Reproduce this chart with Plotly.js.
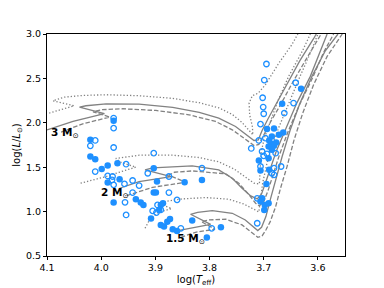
<!DOCTYPE html>
<html><head><meta charset="utf-8">
<script src="https://cdn.plot.ly/plotly-3.0.1.min.js"></script>
<style>html,body{margin:0;padding:0;background:#fff}#c{width:384px;height:288px}</style>
</head><body><div id="c"></div>
<script>
// Evolutionary tracks: log Teff and log L/Lsun
const m3solidT = [4.100,4.052,3.994,4.040,4.028,3.991,3.930,3.868,3.819,3.783,3.752,3.731,3.718,3.710,3.703,3.692,3.677,3.657,3.633,3.608,3.603];
const m3solidL = [1.921,2.015,2.102,2.177,2.192,2.214,2.210,2.173,2.117,2.053,1.959,1.865,1.801,1.808,1.914,2.045,2.214,2.440,2.703,2.947,3.000];
const m3dashT = [4.074,4.034,3.984,4.015,4.000,3.960,3.899,3.838,3.789,3.758,3.734,3.718,3.709,3.700,3.686,3.669,3.648,3.623,3.599,3.594];
const m3dashL = [1.895,1.989,2.064,2.124,2.147,2.158,2.139,2.090,2.015,1.921,1.816,1.744,1.756,1.865,2.026,2.203,2.440,2.703,2.947,3.000];
const m3dotT = [4.096,4.071,4.050,4.089,4.068,4.034,3.991,3.930,3.868,3.819,3.783,3.758,3.740,3.727,3.720,3.721,3.726,3.727,3.721,3.710,3.697,3.672,3.648,3.637];
const m3dotL = [2.109,2.154,2.192,2.248,2.289,2.308,2.316,2.305,2.275,2.226,2.169,2.094,2.004,1.914,1.865,1.959,2.090,2.222,2.305,2.335,2.428,2.673,2.880,3.000];

const m2solidT = [3.966,3.930,3.871,3.919,3.905,3.868,3.832,3.783,3.758,3.740,3.724,3.712,3.704,3.697,3.688,3.677,3.660,3.639,3.614,3.596,3.583];
const m2solidL = [1.263,1.338,1.395,1.470,1.492,1.507,1.515,1.470,1.376,1.263,1.177,1.143,1.199,1.320,1.470,1.677,1.921,2.222,2.523,2.804,3.000];
const m2dashT = [3.953,3.905,3.844,3.875,3.865,3.832,3.770,3.746,3.727,3.715,3.708,3.700,3.692,3.683,3.671,3.655,3.634,3.610,3.590,3.571];
const m2dashL = [1.180,1.274,1.331,1.410,1.443,1.458,1.425,1.320,1.188,1.094,1.064,1.113,1.237,1.413,1.639,1.902,2.203,2.504,2.786,3.000];
const m2dotT = [4.038,3.991,3.957,3.936,3.963,3.973,3.930,3.868,3.819,3.783,3.755,3.734,3.718,3.708,3.707,3.705,3.699,3.688,3.673,3.654,3.629,3.614];
const m2dotL = [1.320,1.395,1.462,1.500,1.553,1.598,1.635,1.635,1.609,1.560,1.481,1.387,1.320,1.312,1.470,1.658,1.827,2.015,2.259,2.523,2.804,3.000];

const m15solidT = [3.868,3.838,3.798,3.835,3.822,3.795,3.758,3.734,3.718,3.711,3.704,3.696,3.688,3.678,3.666,3.651,3.633,3.611,3.587,3.563];
const m15solidL = [0.775,0.812,0.857,0.970,0.992,1.011,0.981,0.906,0.823,0.786,0.823,0.944,1.132,1.357,1.620,1.921,2.222,2.523,2.804,3.000];
const m15dashT = [3.853,3.826,3.790,3.815,3.801,3.770,3.740,3.721,3.711,3.703,3.696,3.688,3.678,3.669,3.657,3.644,3.628,3.608,3.583,3.555];
const m15dashL = [0.711,0.767,0.801,0.887,0.906,0.914,0.850,0.756,0.711,0.726,0.793,0.887,1.056,1.263,1.507,1.808,2.109,2.429,2.748,3.000];
const m15dotT = [3.919,3.910,3.894,3.870,3.892,3.881,3.850,3.807,3.764,3.737,3.718,3.709,3.706,3.702,3.694,3.685,3.671,3.654,3.633,3.614,3.600];
const m15dotL = [0.812,0.917,0.993,1.034,1.086,1.116,1.143,1.158,1.139,1.086,1.026,0.996,1.132,1.320,1.545,1.741,1.966,2.222,2.523,2.786,3.000];

// Stars: open symbols
const openT = [3.977,3.977,3.977,4.011,4.020,4.011,3.988,3.979,3.980,3.977,3.957,3.954,3.942,3.930,3.914,3.903,3.942,3.956,3.954,3.860,3.875,3.875,3.814,3.896,3.905,3.898,3.890,3.853,3.796,
  3.695,3.699,3.702,3.701,3.700,3.706,3.709,3.723,3.703,3.700,3.706,3.641,3.645,3.662,3.668,3.681,3.712,3.681,3.694,3.678,3.697,3.712,3.685];
const openL = [2.053,1.940,1.722,1.801,1.741,1.451,1.402,1.395,1.357,1.301,1.312,1.534,1.350,1.293,1.432,1.658,1.214,1.105,0.962,1.132,1.214,1.395,1.489,1.075,1.008,0.989,1.019,0.812,0.812,
  2.662,2.481,2.282,2.177,2.102,1.985,1.801,1.711,1.677,1.628,1.508,2.451,2.222,2.109,1.508,1.414,0.869,1.489,1.650,1.658,1.827,1.150,1.432];
// Stars: filled symbols
const filledT = [3.977,4.020,4.020,4.011,3.999,3.988,3.970,3.966,3.988,3.977,3.936,3.927,3.922,3.903,3.897,3.903,3.899,3.890,3.886,3.893,3.908,3.890,3.884,3.878,3.873,3.868,3.860,3.846,3.832,3.814,3.805,3.779,
  3.631,3.666,3.664,3.681,3.694,3.685,3.690,3.686,3.681,3.691,3.685,3.677,3.672,3.709,3.691,3.706,3.690,3.695,3.703,3.706,3.698,3.691,3.699];
const filledL = [2.023,1.808,1.620,1.590,1.481,1.519,1.545,1.365,1.327,1.102,1.139,1.102,1.075,1.489,1.338,1.214,1.214,1.075,1.094,1.019,0.921,0.850,0.831,0.887,0.917,0.801,0.782,1.331,0.899,1.357,0.707,0.823,
  2.383,2.214,1.891,1.936,1.929,1.846,1.801,1.763,1.741,1.733,1.696,1.778,1.865,1.575,1.602,1.462,1.470,1.312,1.150,1.113,1.075,1.094,1.019];

const massLabels = ['3', '2', '1.5'];
const labelT = [4.066, 3.974, 3.844];
const labelL = [1.883, 1.207, 0.688];

const xTicks = [4.1, 4.0, 3.9, 3.8, 3.7, 3.6];
const xTickText = ['4.1', '4.0', '3.9', '3.8', '3.7', '3.6'];
const yTicks = [0.5, 1.0, 1.5, 2.0, 2.5, 3.0];
const yTickText = ['0.5', '1.0', '1.5', '2.0', '2.5', '3.0'];

const grey = '#828282';
const blue = '#1e90ff';
const SOLID = {color: grey, width: 1.3, dash: 'solid'};
const DASH = {color: grey, width: 1.3, dash: '4.5px,2px'};
const DOT = {color: grey, width: 1.3, dash: '1.3px,2px'};
function tr(x, y, line) { return {x: x, y: y, type: 'scatter', mode: 'lines', line: line, hoverinfo: 'skip'}; }

const data = [
  tr(m3dotT, m3dotL, DOT), tr(m3solidT, m3solidL, SOLID), tr(m3dashT, m3dashL, DASH),
  tr(m2dotT, m2dotL, DOT), tr(m2solidT, m2solidL, SOLID), tr(m2dashT, m2dashL, DASH),
  tr(m15dotT, m15dotL, DOT), tr(m15solidT, m15solidL, SOLID), tr(m15dashT, m15dashL, DASH),
  {x: openT, y: openL, type: 'scatter', mode: 'markers',
   marker: {symbol: 'circle-open', size: 5.5, color: blue, line: {width: 1.3, color: blue}}},
  {x: filledT, y: filledL, type: 'scatter', mode: 'markers',
   marker: {symbol: 'circle', size: 6.5, color: blue, line: {width: 0}}}
];

const font = {family: 'DejaVu Sans, sans-serif', size: 9.5, color: '#000'};
const titleFont = {family: 'DejaVu Sans, sans-serif', size: 10, color: '#000'};
const annotations = massLabels.map((m, i) => ({
  x: labelT[i], y: labelL[i], xref: 'x', yref: 'y', showarrow: false,
  text: '<b>' + m + ' M</b><sub>⊙</sub>',
  font: {family: 'DejaVu Sans, sans-serif', size: 10.5, color: '#000'}
}));

const axisCommon = {
  showgrid: false, zeroline: false, showline: true, mirror: true,
  linecolor: '#000', linewidth: 1, ticks: 'outside', ticklen: 3, tickwidth: 1,
  tickcolor: '#000', tickfont: font
};

const layout = {
  width: 384, height: 288,
  margin: {l: 47, r: 39, t: 34, b: 32},
  paper_bgcolor: '#fff', plot_bgcolor: '#fff',
  showlegend: false,
  font: font,
  xaxis: Object.assign({}, axisCommon, {
    range: [4.1, 3.55], tickvals: xTicks, ticktext: xTickText,
    title: {text: 'log(<i>T</i><sub>eff</sub>)', font: titleFont, standoff: 3}
  }),
  yaxis: Object.assign({}, axisCommon, {
    range: [0.5, 3.0], tickvals: yTicks, ticktext: yTickText,
    title: {text: 'log(<i>L</i>/<i>L</i><sub>⊙</sub>)', font: titleFont, standoff: 3}
  }),
  annotations: annotations
};

Plotly.newPlot('c', data, layout, {staticPlot: true, displayModeBar: false});
</script>
</body></html>
